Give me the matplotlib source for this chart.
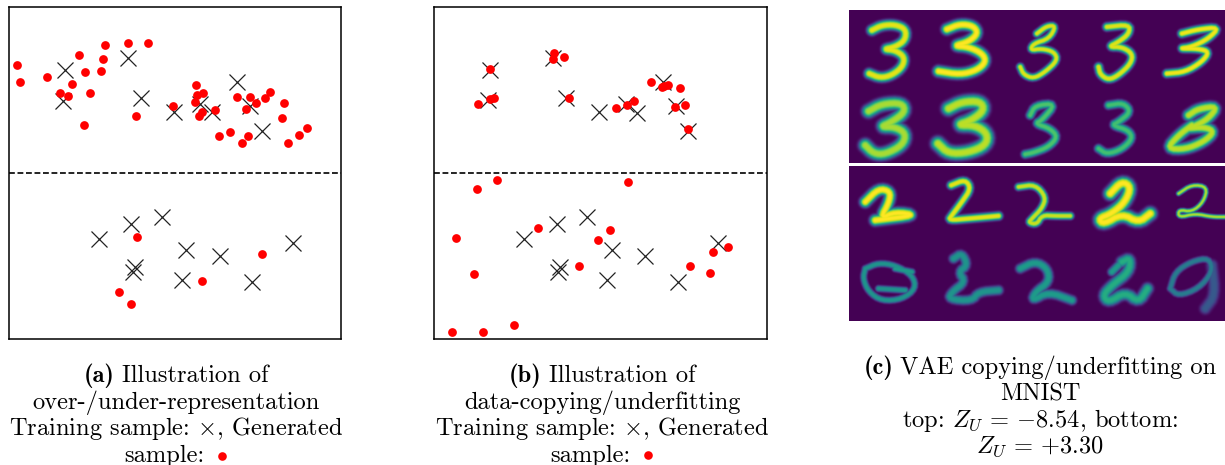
import numpy as np
import matplotlib
matplotlib.use("Agg")
import matplotlib.pyplot as plt
from matplotlib.lines import Line2D

plt.rcParams['font.family'] = ['cmr10', 'DejaVu Sans']
plt.rcParams['mathtext.fontset'] = 'cm'
plt.rcParams['axes.unicode_minus'] = False

# panel (a)
a_train_x = [195,385,188,422,522,600,636,711,750,786,297,394,485,558,659,878,404,398,545,757]
a_train_y = [210,173,303,293,335,313,337,245,318,392,718,673,652,751,768,730,802,817,840,845]
a_gen_x = [52,59,140,237,316,309,302,256,217,179,203,269,253,385,445,407,519,588,591,610,586,607,596,645,
           658,690,727,743,711,751,769,737,796,810,852,845,863,896,922,410,785,607,358,394]
a_gen_y = [196,247,231,164,136,176,214,217,252,278,287,279,374,129,129,349,317,256,285,280,307,335,347,330,
           409,395,428,408,291,291,309,326,293,277,310,354,430,404,384,712,763,844,876,913]
# panel (b)
b_train_x = [196,385,188,424,522,603,637,713,752,788,297,395,486,560,661,880,405,399,546,759]
b_train_y = [210,173,300,293,335,313,338,245,318,392,718,673,652,751,768,730,802,817,840,845]
b_gen_x = [196,387,384,417,208,194,159,433,572,606,627,679,710,717,728,764,750,779,790,
           215,156,609,338,92,556,520,462,147,908,864,796,854,80,173,267]
b_gen_y = [206,160,176,171,294,298,312,294,323,314,302,247,260,258,255,264,321,315,386,
           541,568,545,684,714,691,721,797,823,742,756,797,820,996,996,975]
split_y = 519

# panel (c): pen strokes of the digits: (peak brightness, half width, stroke points)
digits = [
 (0.96,11,[(80,75),(110,60),(150,58),(182,72),(180,105),(150,125),(115,132),(150,135),(178,155),(172,185),(140,210),(105,218),(72,205)]),
 (1.00,12,[(305,72),(345,56),(385,62),(398,85),(370,110),(325,122),(370,125),(412,145),(422,170),(395,195),(345,208),(280,198)]),
 (0.95,8,[(575,85),(605,62),(632,62),(612,100),(565,115),(555,135),(590,130),(627,140),(637,165),(600,200),(565,220),(535,208),(525,185)]),
 (0.95,9,[(785,65),(852,58),(852,85),(820,110),(790,125),(830,125),(862,145),(857,175),(820,210),(790,224),(765,208),(760,185)]),
 (0.98,9,[(1010,85),(1060,72),(1122,66),(1090,100),(1040,125),(1000,130),(1060,130),(1092,140),(1070,170),(1020,200),(965,205)]),
 (0.87,14,[(70,318),(110,296),(170,293),(180,320),(140,350),(105,365),(150,365),(182,385),(172,420),(120,447),(85,445),(60,420)]),
 (0.90,15,[(310,310),(350,290),(405,288),(417,315),(380,345),(335,360),(390,360),(427,385),(422,420),(370,442),(310,445),(278,415)]),
 (0.72,9,[(555,330),(570,300),(632,295),(590,345),(570,355),(615,370),(637,395),(610,425),(565,442),(540,447)]),
 (0.70,9,[(790,300),(835,293),(857,320),(820,350),(800,360),(850,375),(862,400),(830,432),(785,447),(760,430)]),
 (0.90,12,[(1030,330),(1060,310),(1117,303),(1090,340),(1045,365),(1020,370),(1080,365),(1107,380),(1075,410),(1020,432),(965,430),(1000,390),(1040,360)]),
 (1.00,12,[(60,590),(100,550),(135,558),(132,590),(105,640),(150,620),(215,630),(90,645)]),
 (0.96,9,[(318,540),(360,523),(377,550),(350,590),(320,630),(310,645),(370,640),(460,632)]),
 (0.92,8,[(520,545),(570,538),(602,575),(590,610),(560,640),(550,652),(575,657),(590,630),(630,632),(675,632)]),
 (1.00,14,[(795,565),(830,528),(857,545),(840,590),(800,625),(760,640),(775,657),(830,625),(880,652),(915,625)]),
 (0.88,5,[(1000,565),(1040,538),(1087,545),(1075,590),(1040,620),(1000,613),(1000,637),(1050,625),(1100,635),(1140,635)]),
 (0.52,7,[(60,790),(100,773),(150,780),(202,810),(212,850),(170,882),(110,887),(70,860),(53,820),(60,790)]),
 (0.55,7,[(150,790),(200,800)]),
 (0.52,7,[(100,850),(180,855)]),
 (0.52,10,[(325,760),(350,743),(367,780),(340,800),(360,830),(320,860),(310,882),(380,887),(400,860),(460,855)]),
 (0.55,10,[(525,790),(570,768),(607,790),(612,830),(570,860),(560,887),(610,860),(680,885)]),
 (0.62,12,[(830,770),(855,758),(852,800),(800,840),(773,870),(790,892),(840,860),(880,892),(907,850)]),
 (0.55,9,[(800,800),(820,780)]),
 (0.42,7,[(975,850),(990,800),(1040,768),(1092,758),(1102,800),(1060,850),(1000,872),(975,850)]),
 (0.28,12,[(1100,780),(1110,870),(1080,910)]),
]
image_x = (12, 1140)
image_y = (948, 15)
gap_y = (474, 483)

# captions: bold tag and text lines
cap_a = ("(a)", "Illustration of", "over-/under-representation", "Training sample: ${\\times}$, Generated", "sample:")
cap_b = ("(b)", "Illustration of", "data-copying/underfitting", "Training sample: ${\\times}$, Generated", "sample:")
cap_c = ("(c)", "VAE copying/underfitting on", "MNIST", "top: $Z_U\\,=\\,{-}8.54$, bottom:", "$Z_U\\,=\\,{+}3.30$")

W, H = 1225, 465
FS = 17.6
fig = plt.figure(figsize=(W/100, H/100), dpi=100)

def axes_px(l, t, r, b):
    return fig.add_axes([l/W, 1-b/H, (r-l)/W, (b-t)/H])

def scatter_panel(box, xlim, tx, ty, gx, gy):
    ax = axes_px(*box)
    ax.set_xlim(*xlim); ax.set_ylim(1018, 20)
    ax.plot(tx, ty, ls='none', marker='x', ms=11.5, mew=0.9, color='#222222', zorder=2)
    ax.plot(gx, gy, ls='none', marker='o', ms=6.3, mew=0, color='#ff0000', zorder=3)
    ax.axhline(split_y, color='black', ls=(0, (3.5, 1.6)), lw=1.2, zorder=1)
    ax.set_xticks([]); ax.set_yticks([])
    for s in ax.spines.values():
        s.set_linewidth(1.1)
    return ax

scatter_panel((8.7, 6.7, 341.3, 339.3), (26, 1024), a_train_x, a_train_y, a_gen_x, a_gen_y)
scatter_panel((433.7, 6.7, 767.3, 339.3), (26, 1027), b_train_x, b_train_y, b_gen_x, b_gen_y)

def rounded(pts, passes=2):
    # corner cutting, keeps the pen stroke smooth like a handwritten digit
    p = np.array(pts, float)
    for _ in range(passes):
        q = 0.75*p[:-1] + 0.25*p[1:]
        r = 0.25*p[:-1] + 0.75*p[1:]
        mid = np.empty((2*len(q), 2))
        mid[0::2] = q; mid[1::2] = r
        p = np.vstack([p[0], mid, p[-1]])
    return p

# panel (c)
ax = axes_px(849, 10, 1225, 321)
xx, yy = np.meshgrid(np.arange(image_x[0], image_x[1], 1.5), np.arange(image_y[1], image_y[0], 1.5))
field = np.zeros_like(xx, dtype=float)
for amp, w, pts in digits:
    p = rounded(pts)
    for s, e in zip(p[:-1], p[1:]):
        d = e - s
        dd = d @ d
        if dd == 0:
            continue
        t = np.clip(((xx-s[0])*d[0] + (yy-s[1])*d[1]) / dd, 0, 1)
        dist = np.hypot(xx - s[0] - t*d[0], yy - s[1] - t*d[1])
        field = np.maximum(field, amp*np.exp(-(dist/(w*1.3))**3))
ax.imshow(field, cmap='viridis', vmin=0, vmax=1, aspect='auto', interpolation='bilinear',
          extent=(image_x[0], image_x[1], image_y[0], image_y[1]))
ax.axhspan(gap_y[0], gap_y[1], color='white', lw=0)
ax.set_xlim(*image_x); ax.set_ylim(*image_y)
ax.axis('off')

renderer = fig.canvas.get_renderer()

def line(cx, by, s, ha='center', **kw):
    return fig.text(cx/W, 1-by/H, s, ha=ha, va='baseline', fontsize=FS, color='black', **kw)

def tagged(cx, by, tag, rest, gap=7):
    a = line(0, by, tag, ha='left', family='cmb10')
    b = line(0, by, rest, ha='left')
    wa = a.get_window_extent(renderer).width
    wb = b.get_window_extent(renderer).width
    x0 = cx - (wa + gap + wb)/2
    a.set_x(x0/W)
    b.set_x((x0 + wa + gap)/W)

base_ab = [382, 409, 435, 462]
for cx, cap, right in [(176, cap_a, 204), (602, cap_b, 630)]:
    tagged(cx, base_ab[0], cap[0], cap[1])
    line(cx, base_ab[1], cap[2])
    line(cx, base_ab[2], cap[3])
    line(right, base_ab[3], cap[4], ha='right')
tagged(1040, 374, cap_c[0], cap_c[1])
line(1040, 400, cap_c[2])
line(1040, 427, cap_c[3])
line(1040, 453, cap_c[4])
for dx, dy in [(222, 456), (648, 455)]:
    fig.add_artist(Line2D([dx/W], [1-dy/H], marker='o', ms=6.2, mew=0, color='#ff0000', ls='none',
                          transform=fig.transFigure))

fig.savefig('out.png', dpi=100, facecolor='white')
